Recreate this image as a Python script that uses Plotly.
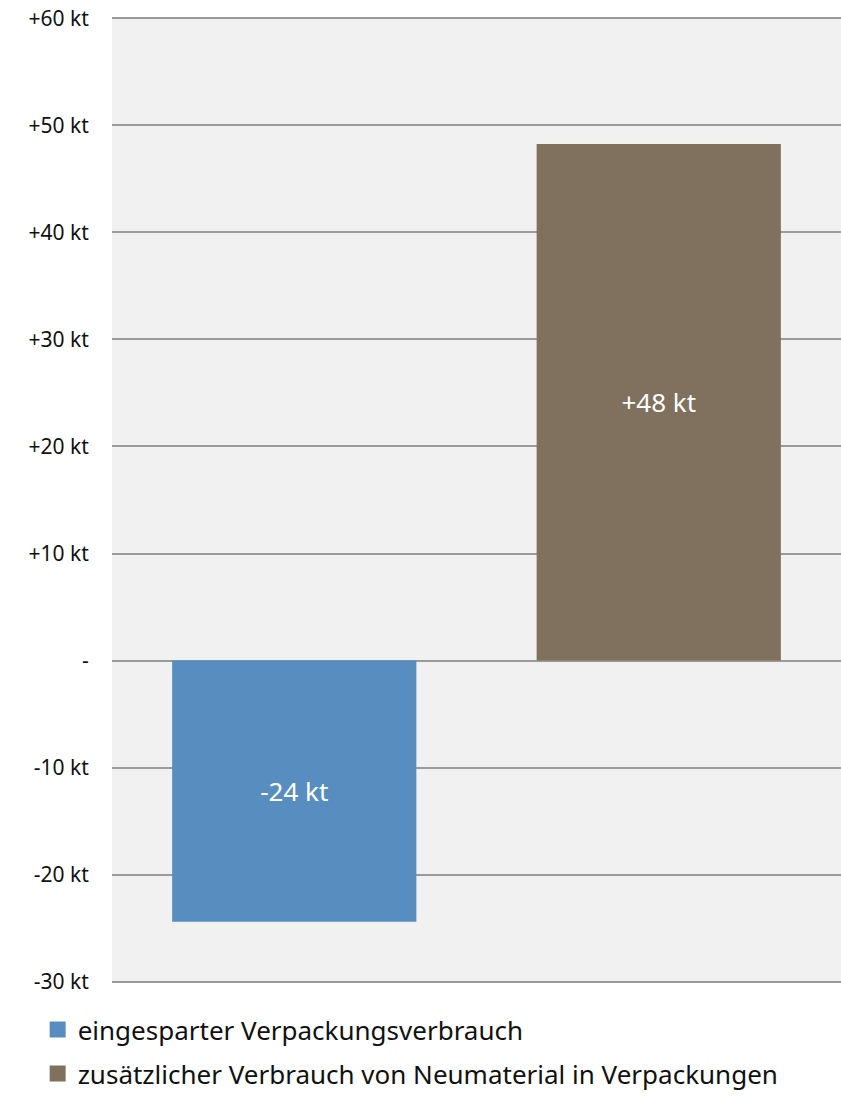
import plotly.graph_objects as go

categories = ["eingespart", "zusätzlich"]
series_names = ["eingesparter Verpackungsverbrauch",
                "zusätzlicher Verbrauch von Neumaterial in Verpackungen"]
values = [-24.4, 48.25]
bar_labels = ["-24 kt", "+48 kt"]
colors = ["#588EBF", "#7F715E"]
tick_vals = [-30, -20, -10, 0, 10, 20, 30, 40, 50, 60]
tick_text = ["-30 kt", "-20 kt", "-10 kt", "-", "+10 kt", "+20 kt",
             "+30 kt", "+40 kt", "+50 kt", "+60 kt"]

FONT = "Noto Sans"

fig = go.Figure()
for i in range(2):
    fig.add_trace(go.Bar(
        x=[categories[i]], y=[values[i]], name=series_names[i],
        marker=dict(color=colors[i], line=dict(width=0)),
        text=[bar_labels[i]], textposition="inside", insidetextanchor="middle",
        textfont=dict(color="white", size=26, family=FONT),
        showlegend=False, hoverinfo="skip",
    ))
# legend entries with square swatches
for i in range(2):
    fig.add_trace(go.Scatter(
        x=[None], y=[None], mode="markers", name=series_names[i],
        marker=dict(symbol="square", size=17, color=colors[i]),
        legendgroup=f"g{i}", showlegend=True, hoverinfo="skip",
    ))

fig.update_layout(
    width=841, height=1096,
    margin=dict(l=112, r=0, t=17, b=113, autoexpand=False),
    paper_bgcolor="white", plot_bgcolor="#F1F1F1",
    bargap=0.33, barmode="overlay",
    font=dict(family=FONT, color="#111111"),
    showlegend=True,
    legend=dict(
        orientation="v", x=-0.102, xanchor="left", y=-0.024, yanchor="top",
        font=dict(size=26, family=FONT, color="#111111"),
        tracegroupgap=7, itemwidth=30, bgcolor="rgba(0,0,0,0)",
    ),
    xaxis=dict(categoryorder="array", categoryarray=categories,
               showticklabels=False, showgrid=False, zeroline=False,
               fixedrange=True),
    yaxis=dict(range=[-30.12, 60.12], tickvals=tick_vals, ticktext=tick_text,
               showgrid=True, gridcolor="#9A9A9A", gridwidth=2,
               zeroline=True, zerolinecolor="#9A9A9A", zerolinewidth=2,
               tickfont=dict(size=21, family=FONT, color="#111111"),
               ticks="outside", ticklen=18, tickcolor="rgba(0,0,0,0)",
               showline=False),
)

fig.write_html("out.html")
